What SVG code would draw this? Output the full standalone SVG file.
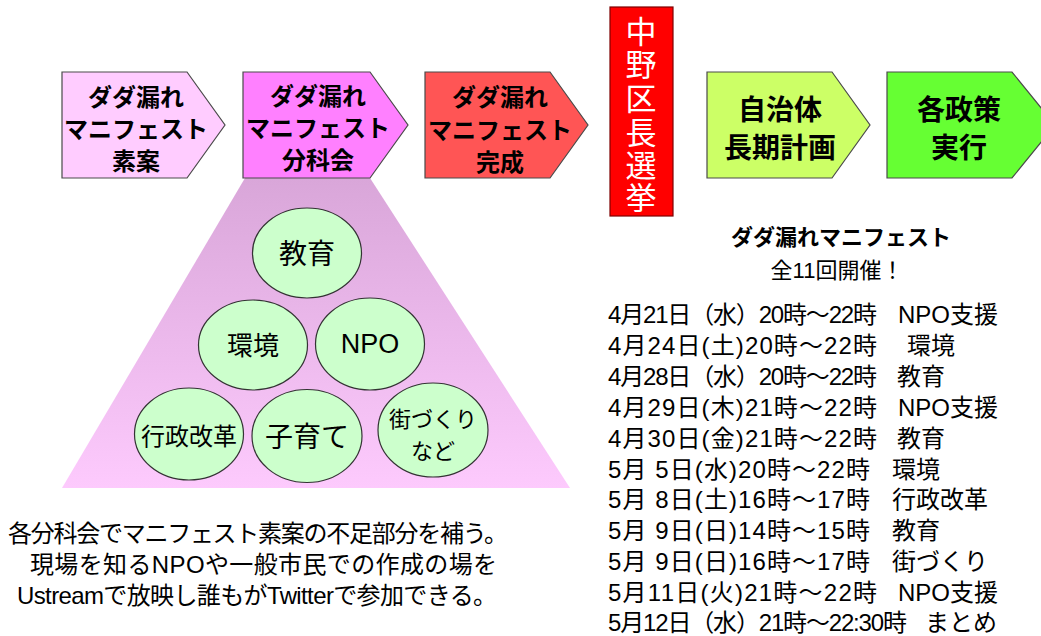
<svg xmlns="http://www.w3.org/2000/svg" width="1041" height="636" viewBox="0 0 1041 636">
<defs>
<linearGradient id="trap" x1="0" y1="0" x2="0" y2="1">
<stop offset="0" stop-color="#D9A6D9"/>
<stop offset="1" stop-color="#FDCAFD"/>
</linearGradient>
</defs>
<style>
text{font-family:"Liberation Sans","Noto Sans CJK JP",sans-serif;fill:#000;dominant-baseline:central}
.pent{stroke:#4a4a4a;stroke-width:1.2}
.b{font-weight:bold;text-anchor:middle}
.c{text-anchor:middle}
.w{fill:#fff}
.circ{fill:#CCFFCC;stroke:#333;stroke-width:1.2}
.s{font-size:24px}
</style>
<rect width="1041" height="636" fill="#fff"/>
<g id="funnel">
<polygon points="245,178 370,178 570,488 62,488" fill="url(#trap)"/>
</g>
<g id="n1">
<polygon class="pent" points="62,72 187,72 225,125 187,178 62,178" fill="#FFCCFF"/>
<text class="b" font-size="24" x="136" y="97">ダダ漏れ</text>
<text class="b" font-size="24" x="136" y="129">マニフェスト</text>
<text class="b" font-size="24" x="136" y="161">素案</text>
</g>
<g id="n2">
<polygon class="pent" points="243,72 370,72 408,125 370,178 243,178" fill="#FF80FF"/>
<text class="b" font-size="24" x="318" y="96">ダダ漏れ</text>
<text class="b" font-size="24" x="318" y="128">マニフェスト</text>
<text class="b" font-size="24" x="318" y="160">分科会</text>
</g>
<g id="n3">
<polygon class="pent" points="425,72 550,72 588,125 550,178 425,178" fill="#FF5555"/>
<text class="b" font-size="24" x="500" y="97">ダダ漏れ</text>
<text class="b" font-size="24" x="500" y="130">マニフェスト</text>
<text class="b" font-size="24" x="500" y="162">完成</text>
</g>
<g id="election">
<rect x="610" y="7" width="63" height="209" fill="#FF0000" stroke="#7F0000" stroke-width="1.2"/>
<text class="c w" font-size="31" x="641" y="32">中</text>
<text class="c w" font-size="31" x="641" y="65">野</text>
<text class="c w" font-size="31" x="641" y="99">区</text>
<text class="c w" font-size="31" x="641" y="133">長</text>
<text class="c w" font-size="31" x="641" y="166">選</text>
<text class="c w" font-size="31" x="641" y="198">挙</text>
</g>
<g id="n4">
<polygon class="pent" points="707,72 832,72 870,125 832,178 707,178" fill="#CCFF66"/>
<text class="b" font-size="28" x="780" y="110">自治体</text>
<text class="b" font-size="28" x="780" y="148">長期計画</text>
</g>
<g id="n5">
<polygon class="pent" points="887,72 1012,72 1055,125 1012,178 887,178" fill="#66FF33"/>
<text class="b" font-size="28" x="959" y="110">各政策</text>
<text class="b" font-size="28" x="959" y="148">実行</text>
</g>
<g id="c-kyoiku">
<ellipse class="circ" cx="307" cy="253" rx="54.5" ry="45"/>
<text class="c" font-size="28" x="307" y="254">教育</text>
</g>
<g id="c-kankyo">
<ellipse class="circ" cx="253" cy="345" rx="54.5" ry="45"/>
<text class="c" font-size="26" x="253" y="346">環境</text>
</g>
<g id="c-npo">
<ellipse class="circ" cx="370" cy="344" rx="54.5" ry="46"/>
<text class="c" font-size="27" x="370" y="344">NPO</text>
</g>
<g id="c-gyosei">
<ellipse class="circ" cx="189" cy="434" rx="54.5" ry="46"/>
<text class="c" font-size="24" x="189" y="436">行政改革</text>
</g>
<g id="c-kosodate">
<ellipse class="circ" cx="307" cy="436" rx="55" ry="46.5"/>
<text class="c" font-size="28" x="307" y="437">子育て</text>
</g>
<g id="c-machi">
<ellipse class="circ" cx="433" cy="430" rx="55" ry="47"/>
<text class="c" font-size="22" x="433" y="419">街づくり</text>
<text class="c" font-size="22" x="433" y="451">など</text>
</g>
<g id="caption">
<text font-size="24" x="8" y="533" textLength="500">各分科会でマニフェスト素案の不足部分を補う。</text>
<text font-size="24" x="30" y="564" textLength="467">現場を知るNPOや一般市民での作成の場を</text>
<text font-size="24" x="17" y="595" textLength="480">Ustreamで放映し誰もがTwitterで参加できる。</text>
</g>
<g id="schedule-title">
<text class="b" font-size="22" x="841" y="237">ダダ漏れマニフェスト</text>
<text class="c" font-size="22" x="837" y="270">全11回開催！</text>
</g>
<g id="schedule">
<text class="s" x="608" y="314" textLength="269">4月21日（水）20時～22時</text><text class="s" x="898" y="314">NPO支援</text>
<text class="s" x="608" y="345" textLength="269">4月24日(土)20時～22時</text><text class="s" x="907" y="345">環境</text>
<text class="s" x="608" y="376" textLength="269">4月28日（水）20時～22時</text><text class="s" x="897" y="376">教育</text>
<text class="s" x="608" y="407" textLength="269">4月29日(木)21時～22時</text><text class="s" x="898" y="407">NPO支援</text>
<text class="s" x="608" y="438" textLength="269">4月30日(金)21時～22時</text><text class="s" x="897" y="438">教育</text>
<text class="s" x="608" y="469" textLength="262">5月 5日(水)20時～22時</text><text class="s" x="892" y="469">環境</text>
<text class="s" x="608" y="499" textLength="262">5月 8日(土)16時～17時</text><text class="s" x="892" y="499">行政改革</text>
<text class="s" x="608" y="530" textLength="262">5月 9日(日)14時～15時</text><text class="s" x="892" y="530">教育</text>
<text class="s" x="608" y="561" textLength="262">5月 9日(日)16時～17時</text><text class="s" x="892" y="561">街づくり</text>
<text class="s" x="608" y="592" textLength="269">5月11日(火)21時～22時</text><text class="s" x="898" y="592">NPO支援</text>
<text class="s" x="608" y="622" textLength="299">5月12日（水）21時～22:30時</text><text class="s" x="925" y="622">まとめ</text>
</g>
</svg>
